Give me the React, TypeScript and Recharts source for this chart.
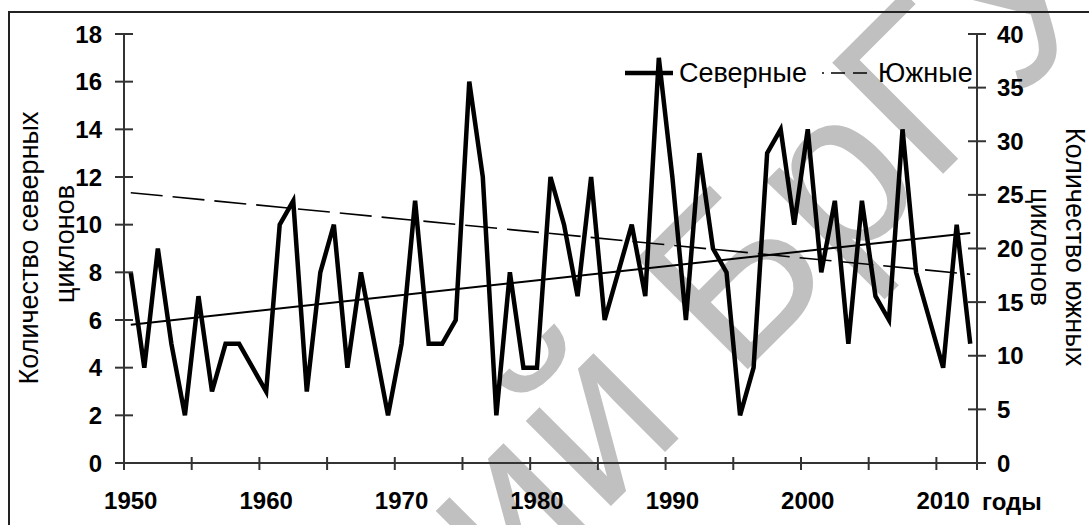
import React from 'react';
import { ComposedChart, Line, XAxis, YAxis, Legend } from 'recharts';

// ---- data ----
const years = [
  1950, 1951, 1952, 1953, 1954, 1955, 1956, 1957, 1958, 1959,
  1960, 1961, 1962, 1963, 1964, 1965, 1966, 1967, 1968, 1969,
  1970, 1971, 1972, 1973, 1974, 1975, 1976, 1977, 1978, 1979,
  1980, 1981, 1982, 1983, 1984, 1985, 1986, 1987, 1988, 1989,
  1990, 1991, 1992, 1993, 1994, 1995, 1996, 1997, 1998, 1999,
  2000, 2001, 2002, 2003, 2004, 2005, 2006, 2007, 2008, 2009,
  2010, 2011, 2012,
];
const northern = [
  8, 4, 9, 5, 2, 7, 3, 5, 5, 4,
  3, 10, 11, 3, 8, 10, 4, 8, 5, 2,
  5, 11, 5, 5, 6, 16, 12, 2, 8, 4,
  4, 12, 10, 7, 12, 6, 8, 10, 7, 17,
  12, 6, 13, 9, 8, 2, 4, 13, 14, 10,
  14, 8, 11, 5, 11, 7, 6, 14, 8, 6,
  4, 10, 5,
];
const trendYears = [1950, 2012];
const northTrend = [5.8, 9.65];
const southTrend = [25.2, 17.6];

const leftTicks = [0, 2, 4, 6, 8, 10, 12, 14, 16, 18];
const rightTicks = [0, 5, 10, 15, 20, 25, 30, 35, 40];
const yearLabels = [1950, 1960, 1970, 1980, 1990, 2000, 2010];
const xTickMarks = [1949.5, 1954.5, 1959.5, 1964.5, 1969.5, 1974.5, 1979.5, 1984.5, 1989.5, 1994.5, 1999.5, 2004.5, 2009.5, 2012.5];

const seriesNames = ['Северные', 'Южные'];
const leftTitle = ['Количество северных', 'циклонов'];
const rightTitle = ['Количество южных', 'циклонов'];
const xTitle = 'годы';
const watermark = ['Репозиторий Бр', 'ГУ'];

// ---- layout ----
const W = 1089;
const H = 525;
const PLOT_LEFT = 124;
const PLOT_RIGHT = 977;
const PLOT_TOP = 34;
const PLOT_BOTTOM = 463;
const HALF_CAT = (PLOT_RIGHT - PLOT_LEFT) / years.length / 2;
const FONT = '"Liberation Sans", Arial, sans-serif';
const AXIS = '#333';

const data = years.map((y, i) => ({ year: y, north: northern[i] }));
const northTrendData = trendYears.map((y, i) => ({ year: y, v: northTrend[i] }));
const southTrendData = trendYears.map((y, i) => ({ year: y, v: southTrend[i] }));

const XTick = (props: any) => {
  const { x, y, payload } = props;
  const yr = payload.value + 0.5;
  return (
    <g>
      <line x1={x} x2={x} y1={y - 6} y2={y + 7} stroke={AXIS} strokeWidth={2} />
      {yearLabels.includes(yr) && (
        <text x={x + HALF_CAT} y={y + 46} textAnchor="middle" fontFamily={FONT} fontWeight="bold" fontSize={24} fill="#000">
          {yr}
        </text>
      )}
    </g>
  );
};

const LeftTick = (props: any) => {
  const { x, y, payload } = props;
  return (
    <g>
      <line x1={x - 9} x2={x + 9} y1={y} y2={y} stroke={AXIS} strokeWidth={2} />
      <text x={x - 22} y={y + 8.5} textAnchor="end" fontFamily={FONT} fontWeight="bold" fontSize={24} fill="#000">
        {payload.value}
      </text>
    </g>
  );
};

const RightTick = (props: any) => {
  const { x, y, payload } = props;
  return (
    <g>
      <line x1={x - 9} x2={x + 9} y1={y} y2={y} stroke={AXIS} strokeWidth={2} />
      <text x={x + 20} y={y + 8.5} textAnchor="start" fontFamily={FONT} fontWeight="bold" fontSize={24} fill="#000">
        {payload.value}
      </text>
    </g>
  );
};

const renderLegend = () => (
  <svg width={380} height={34} style={{ display: 'block' }}>
    <line x1={5} x2={53} y1={15} y2={15} stroke="#000" strokeWidth={4.5} />
    <text x={59} y={24} fontFamily={FONT} fontSize={27} fill="#000">{seriesNames[0]}</text>
    <line x1={202} x2={253} y1={15} y2={15} stroke="#000" strokeWidth={1.5} strokeDasharray="2 7 14 8 14 6" />
    <text x={258} y={24} fontFamily={FONT} fontSize={27} fill="#000">{seriesNames[1]}</text>
  </svg>
);

export default function App() {
  return (
    <div style={{ position: 'absolute', left: 0, top: 0, width: W, height: H, overflow: 'hidden', background: '#fff' }}>
      {/* watermark */}
      <svg width={W} height={H} style={{ position: 'absolute', left: 0, top: 0 }}>
        <text transform="translate(930,187) rotate(-45)" textAnchor="end" fontFamily={FONT} fontSize={228} fill="#c0c0c0">
          {watermark[0]}
        </text>
        <text transform="translate(930,187) rotate(-45)" textAnchor="start" fontFamily={FONT} fontSize={228} fill="#c0c0c0">
          {watermark[1]}
        </text>
      </svg>
      {/* outer frame */}
      <div style={{ position: 'absolute', left: 8, top: 11, width: 1200, height: 700, borderTop: '2px solid #222', borderLeft: '2px solid #222' }} />
      {/* axis titles */}
      <svg width={W} height={H} style={{ position: 'absolute', left: 0, top: 0 }}>
        <text transform="translate(38,248) rotate(-90)" textAnchor="middle" fontFamily={FONT} fontSize={27} fill="#000">{leftTitle[0]}</text>
        <text transform="translate(74,244) rotate(-90)" textAnchor="middle" fontFamily={FONT} fontSize={27} fill="#000">{leftTitle[1]}</text>
        <text transform="translate(1066,247) rotate(90)" textAnchor="middle" fontFamily={FONT} fontSize={27} fill="#000">{rightTitle[0]}</text>
        <text transform="translate(1031,247) rotate(90)" textAnchor="middle" fontFamily={FONT} fontSize={27} fill="#000">{rightTitle[1]}</text>
        <text x={982} y={510} fontFamily={FONT} fontWeight="bold" fontSize={24} fill="#000">{xTitle}</text>
      </svg>
      <div style={{ position: 'absolute', left: 0, top: 0 }}>
        <ComposedChart width={W} height={H} data={data} margin={{ top: PLOT_TOP, right: 0, bottom: 0, left: 0 }}>
          <XAxis
            dataKey="year"
            type="number"
            domain={[1949.5, 2012.5]}
            ticks={xTickMarks}
            interval={0}
            allowDataOverflow
            height={H - PLOT_BOTTOM}
            tickSize={0}
            tickMargin={0}
            tickLine={false}
            axisLine={{ stroke: AXIS, strokeWidth: 2 }}
            tick={<XTick />}
          />
          <YAxis
            yAxisId="left"
            orientation="left"
            domain={[0, 18]}
            ticks={leftTicks}
            interval={0}
            width={PLOT_LEFT}
            tickSize={0}
            tickMargin={0}
            tickLine={false}
            axisLine={{ stroke: AXIS, strokeWidth: 2 }}
            tick={<LeftTick />}
          />
          <YAxis
            yAxisId="right"
            orientation="right"
            domain={[0, 40]}
            ticks={rightTicks}
            interval={0}
            width={W - PLOT_RIGHT}
            tickSize={0}
            tickMargin={0}
            tickLine={false}
            axisLine={{ stroke: AXIS, strokeWidth: 2 }}
            tick={<RightTick />}
          />
          <Legend
            layout="horizontal"
            verticalAlign="middle"
            align="center"
            content={renderLegend}
            wrapperStyle={{ position: 'absolute', left: 620, top: 58, width: 380, height: 34 }}
          />
          <Line
            yAxisId="left"
            data={northTrendData}
            dataKey="v"
            type="linear"
            stroke="#000"
            strokeWidth={2}
            dot={false}
            activeDot={false}
            isAnimationActive={false}
            legendType="none"
          />
          <Line
            yAxisId="right"
            data={southTrendData}
            dataKey="v"
            type="linear"
            stroke="#000"
            strokeWidth={1.6}
            strokeDasharray="32 10"
            dot={false}
            activeDot={false}
            isAnimationActive={false}
            name={seriesNames[1]}
          />
          <Line
            yAxisId="left"
            dataKey="north"
            type="linear"
            stroke="#000"
            strokeWidth={4.5}
            dot={false}
            activeDot={false}
            isAnimationActive={false}
            name={seriesNames[0]}
          />
        </ComposedChart>
      </div>
    </div>
  );
}
